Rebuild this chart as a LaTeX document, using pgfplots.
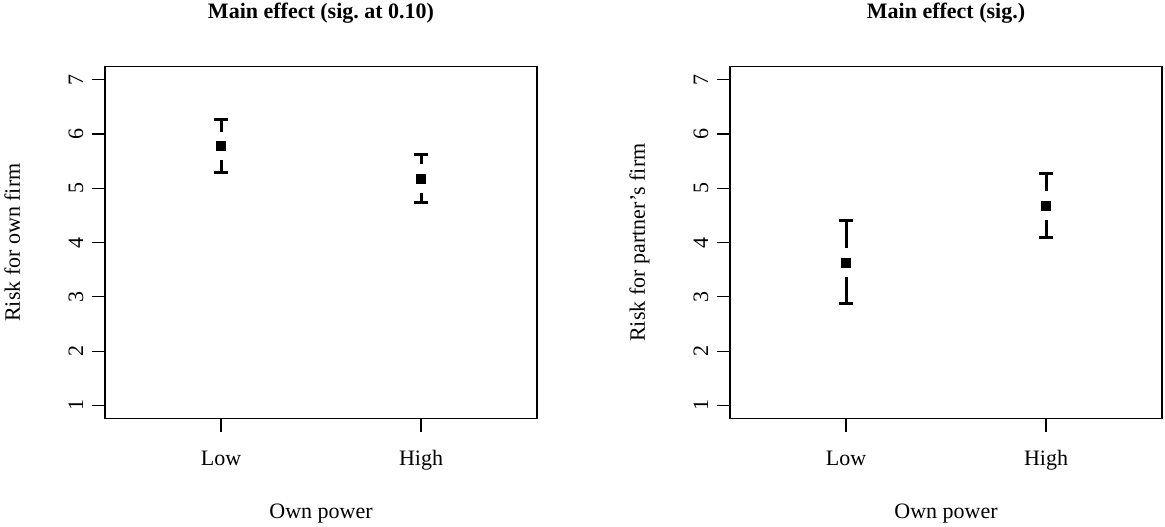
\documentclass[border=0pt]{standalone}
\usepackage{fontspec}
\setmainfont{Liberation Serif}
\usepackage{pgfplots}
\usepackage{pgfplotstable}
\pgfplotsset{compat=1.18}

% mean and CI half-widths (upper, lower)
\pgfplotstableread{
x y ep em
1 5.78 0.48 0.49
2 5.18 0.45 0.44
}\ownfirm
\pgfplotstableread{
x y ep em
1 3.63 0.78 0.76
2 4.68 0.59 0.58
}\partnerfirm

\pgfplotsset{
  rpanel/.style={
    scale only axis, width=216pt, height=175.9pt,
    anchor=south west,
    xmin=0.42, xmax=2.58, ymin=0.76, ymax=7.24,
    xtick={1,2}, xticklabels={Low,High}, ytick={1,2,...,7},
    xtick pos=bottom, ytick pos=left, tick align=outside,
    major tick length=6.5pt,
    axis line style={line width=0.6pt},
    every tick/.style={line width=0.6pt, black},
    /pgf/number format/assume math mode=true,
    % shifts act in the rotated frame: yshift moves left here
    yticklabel style={rotate=90, anchor=base, yshift=4.5pt},
    xticklabel style={anchor=base, yshift=-16.75pt},
    title style={at={(0.5,1)}, anchor=base, yshift=18.2pt, font=\bfseries},
    xlabel style={at={(axis description cs:0.5,0)}, anchor=base, yshift=-49.75pt},
    ylabel style={at={(axis description cs:-0.197,0.5)}, anchor=base},
  },
  cibars/.style={
    only marks, mark=square*, mark size=2.2pt,
    mark options={black, line width=0.3pt},
    error bars/.cd, y dir=both, y explicit,
    error bar style={line width=1.5pt, black},
    error mark options={rotate=90, line width=1.5pt, mark size=3.6pt, black},
  },
  gap/.style={only marks, mark=|, mark size=7.2pt, mark options={white, line width=3pt}},
  pts/.style={only marks, mark=square*, mark size=2.2pt, mark options={black, line width=0.3pt}},
}

\begin{document}
\frenchspacing
\fontsize{11}{13}\selectfont
\begin{tikzpicture}
\useasboundingbox (0,0) rectangle (582.5pt,263pt);

\begin{axis}[rpanel, at={(52.5pt,53.75pt)},
  title={Main effect (sig. at 0.10)},
  xlabel={Own power}, ylabel={Risk for own firm}]
  \addplot[cibars] table[x=x, y=y, y error plus=ep, y error minus=em] {\ownfirm};
  \addplot[gap] table[x=x, y=y] {\ownfirm};
  \addplot[pts] table[x=x, y=y] {\ownfirm};
\end{axis}

\begin{axis}[rpanel, at={(365pt,53.75pt)},
  title={Main effect (sig.)},
  xlabel={Own power}, ylabel={Risk for partner’s firm}]
  \addplot[cibars] table[x=x, y=y, y error plus=ep, y error minus=em] {\partnerfirm};
  \addplot[gap] table[x=x, y=y] {\partnerfirm};
  \addplot[pts] table[x=x, y=y] {\partnerfirm};
\end{axis}
\end{tikzpicture}
\end{document}
